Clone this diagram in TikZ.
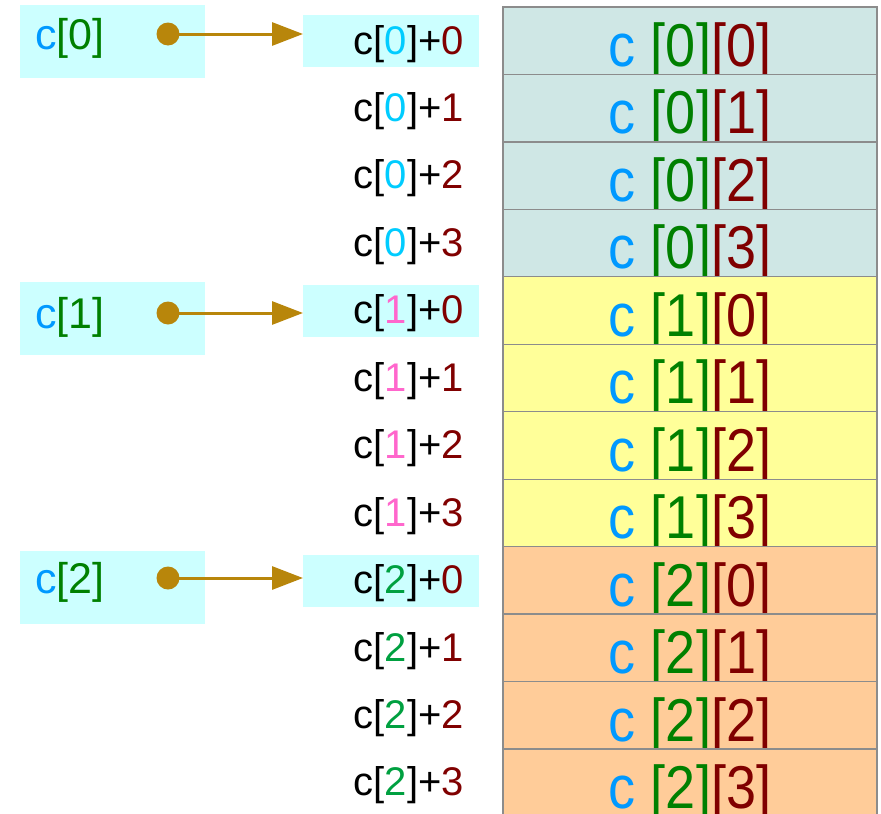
\documentclass[tikz,border=0pt]{standalone}
\usepackage{fontspec}
\setmainfont{Liberation Sans}
\usepackage{graphicx}
\usetikzlibrary{arrows.meta}
\definecolor{cbl}{HTML}{0099FF}
\definecolor{gr}{HTML}{008000}
\definecolor{dr}{HTML}{800000}
\definecolor{icyan}{HTML}{00CCFF}
\definecolor{ipink}{HTML}{FF66CC}
\definecolor{igrn}{HTML}{00A040}
\definecolor{hlc}{HTML}{CCFFFF}
\definecolor{fteal}{HTML}{CFE7E5}
\definecolor{fyel}{HTML}{FFFF99}
\definecolor{forg}{HTML}{FFCC99}
\definecolor{arrc}{HTML}{B8860B}
\definecolor{bord}{HTML}{8C8C8C}
\tikzset{
  cell/.style={draw=bord, line width=1.3pt, minimum width=374pt, minimum height=67.45pt, inner sep=0pt, outer sep=0pt},
  hlbox/.style={fill=hlc, draw=none, minimum width=176pt, minimum height=52pt, inner sep=0pt, anchor=north west},
  lbox/.style={fill=hlc, draw=none, minimum width=185pt, minimum height=73pt, inner sep=0pt, anchor=north west},
  rtext/.style={inner sep=0pt, font=\fontsize{54}{54}\selectfont},
  mtext/.style={inner sep=0pt, font=\fontsize{40}{40}\selectfont},
  ltext/.style={inner sep=0pt, font=\fontsize{43}{43}\selectfont},
  dotn/.style={circle, fill=arrc, draw=none, minimum size=23pt, inner sep=0pt},
  arr/.style={draw=arrc, line width=3pt, -{Triangle[length=31pt,width=23pt]}}
}
\begin{document}
\begin{tikzpicture}[x=1pt,y=-1pt]
\useasboundingbox (0,0) rectangle (881,814);
% left boxes
\node[lbox] (lb0) at (20,5) {};
\node[lbox] (lb1) at (20,282) {};
\node[lbox] (lb2) at (20,551) {};
% middle highlights
\node[hlbox] (hl0) at (303,15) {};
\node[hlbox] (hl1) at (303,285) {};
\node[hlbox] (hl2) at (303,555) {};
% table and labels
\foreach \i in {0,...,11}{
  \pgfmathtruncatemacro\b{int(\i/4)}
  \pgfmathtruncatemacro\k{mod(\i,4)}
  \pgfmathsetmacro\tp{7+67.45*\i}
  \ifcase\b \def\fc{fteal}\def\ic{icyan}\or \def\fc{fyel}\def\ic{ipink}\or \def\fc{forg}\def\ic{igrn}\fi
  \node[cell, fill=\fc, anchor=north west] (r\i) at (503,\tp) {};
  \node[rtext, anchor=base] (rt\i) at ([yshift=-59.5pt]r\i.north) {\scalebox{1}[1.12]{\textcolor{cbl}{c} \textcolor{gr}{[\b]}\textcolor{dr}{[\k]}}};
  \node[mtext, anchor=base east] (m\i) at (464,\tp+47) {c[\textcolor{\ic}{\b}]+\textcolor{dr}{\k}};
}
% left labels
\node[ltext, anchor=base west] (l0) at (35,49.5) {\textcolor{cbl}{c}\textcolor{gr}{[0]}};
\node[ltext, anchor=base west] (l1) at (35,328.5) {\textcolor{cbl}{c}\textcolor{gr}{[1]}};
\node[ltext, anchor=base west] (l2) at (35,593.5) {\textcolor{cbl}{c}\textcolor{gr}{[2]}};
% pointers
\node[dotn] (d0) at (168,34) {};
\node[dotn] (d1) at (168,313) {};
\node[dotn] (d2) at (168,578) {};
\draw[arr] (d0.center) -- (d0 -| hl0.west);
\draw[arr] (d1.center) -- (d1 -| hl1.west);
\draw[arr] (d2.center) -- (d2 -| hl2.west);
\end{tikzpicture}
\end{document}
